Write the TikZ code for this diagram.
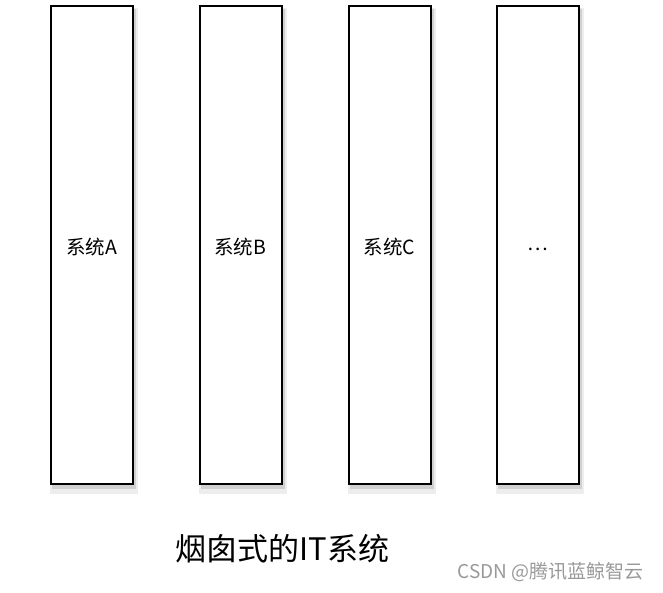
\documentclass[tikz,border=0pt]{standalone}
\usepackage{fontspec}
\setmainfont{Noto Sans CJK SC}
\newfontfamily\cjk{Noto Sans CJK SC}
\usetikzlibrary{positioning}
\tikzset{
  sysbox/.style={draw=black, line width=2pt, fill=white, minimum width=82pt, minimum height=478pt, inner sep=0pt, text=black},
  lbl/.style={font=\cjk\fontsize{19.5}{22}\selectfont, text=black, inner sep=0pt},
  shadowbox/.style={fill=black, opacity=0.12, minimum width=84pt, minimum height=480pt, inner sep=0pt, draw=none},
  title/.style={font=\cjk\fontsize{31}{34}\selectfont, text=black},
}
\begin{document}
\begin{tikzpicture}[x=1pt,y=-1pt]
\useasboundingbox (0,0) rectangle (663,592);
\fill[white] (0,0) rectangle (663,592);
% shadows
\foreach \cx in {92,240.5,389.5,537.5}{
  \node[shadowbox] at (\cx+2,245+4) {};
  \node[shadowbox, opacity=0.07, minimum width=88pt, minimum height=486pt] at (\cx+2,245+6) {};
}
\node[sysbox] (a) at (92,245) {};
\node[sysbox] (b) at (240.5,245) {};
\node[sysbox] (c) at (389.5,245) {};
\node[sysbox] (d) at (537.5,245) {};
\node[lbl] (la) at (91.5,247.5) {系统A};
\node[lbl] (lb) at (240,247.5) {系统B};
\node[lbl] (lc) at (389.5,247.5) {系统C};
\node[lbl] (ld) at (538,249) {…};
\node[title] (t) at (282.5,549) {烟囱式的IT系统};
\node[font=\cjk\fontsize{19}{21}\selectfont, text=black!40] (w) at (550.5,572) {CSDN @腾讯蓝鲸智云};
\end{tikzpicture}
\end{document}
